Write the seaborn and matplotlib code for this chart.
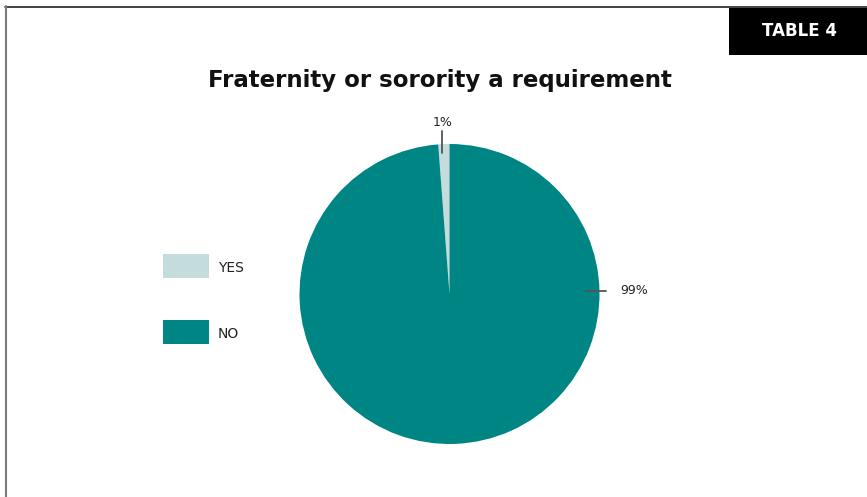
import matplotlib
matplotlib.use("Agg")
import matplotlib.pyplot as plt
import seaborn as sns
from matplotlib.patches import Rectangle
from matplotlib.lines import Line2D

sns.set_theme(style="white")
plt.rcParams['font.family'] = ['DejaVu Sans']

categories = ["YES", "NO"]
values = [1.2, 98.8]
value_labels = ["1%", "99%"]
colors = ["#c4dcdc", "#008585"]
title = "Fraternity or sorority a requirement"
table_label = "TABLE 4"

W, H = 867, 497
fig = plt.figure(figsize=(W / 100, H / 100), dpi=100)
fig.patch.set_facecolor("white")

def fx(x):
    return x / W

def fy(y):
    return 1 - y / H

# frame lines
fig.add_artist(Line2D([fx(5), fx(867)], [fy(6.5), fy(6.5)], color="#222222", lw=1.2))
fig.add_artist(Line2D([fx(5.5), fx(5.5)], [fy(6), fy(497)], color="#7a7a7a", lw=1.5))

# table box
fig.add_artist(Rectangle((fx(729), fy(55)), fx(867) - fx(729), fy(8) - fy(55),
                         facecolor="black", edgecolor="none", transform=fig.transFigure))
fig.text(fx(799), fy(31), table_label, color="white", fontsize=12, fontweight="bold",
         ha="center", va="center")

# title
fig.text(fx(440), fy(80), title, fontsize=16.5, fontweight="bold", ha="center", va="center",
         color="#111111")

# pie
ax = fig.add_axes([fx(299), fy(444), fx(600) - fx(299), fy(144) - fy(444)])
wedges, _ = ax.pie(values, colors=colors, startangle=90, counterclock=True,
                   wedgeprops=dict(linewidth=0))
ax.set_aspect("equal")
ax.set_xlim(-1, 1)
ax.set_ylim(-1, 1)
ax.axis("off")

# label leader lines and labels
ax.plot([-0.047, -0.047], [1.09, 0.94], color="#555555", lw=1.3, clip_on=False)
ax.text(-0.047, 1.145, value_labels[0], ha="center", va="center", fontsize=9, color="#222222")
ax.plot([0.91, 1.04], [0.02, 0.02], color="#555555", lw=1.3, clip_on=False)
ax.text(1.14, 0.02, value_labels[1], ha="left", va="center", fontsize=9, color="#222222")

# legend
for i, (cat, col) in enumerate(zip(categories, colors)):
    y0 = 254 + i * 66
    fig.add_artist(Rectangle((fx(163), fy(y0 + 24)), fx(209) - fx(163), fy(y0) - fy(y0 + 24),
                             facecolor=col, edgecolor="none", transform=fig.transFigure))
    fig.text(fx(218), fy(y0 + 14), cat, fontsize=10, ha="left", va="center",
             color="#222222")

fig.savefig("out.png", dpi=100)
